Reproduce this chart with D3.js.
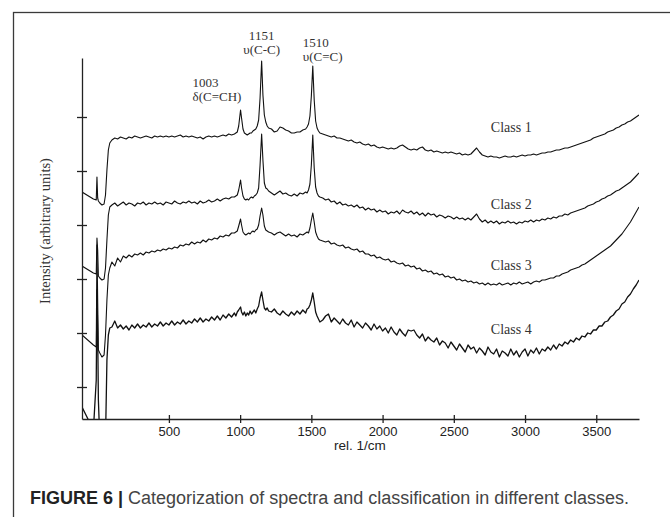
<!DOCTYPE html>
<html lang="en">
<head>
<meta charset="utf-8">
<title>Categorization of spectra</title>
<script src="https://cdn.jsdelivr.net/npm/d3@7"></script>
<style>
  body { margin: 0; background: #fff; }
  svg { display: block; }
</style>
</head>
<body>
<div id="chart"></div>
<script>
// Raman shift (rel. 1/cm) sampled along the spectra
const wavenumber = [
  -110, -30, -10, -5, 0, 5, 15, 30, 45, 55, 65, 75, 85,
  100, 120, 140, 160, 180, 200, 220, 240, 260, 280, 300, 320, 340, 360, 380, 400, 420, 440, 460, 480,
  500, 520, 540, 560, 580, 600, 620, 640, 660, 680, 700, 720, 740, 760, 780, 800, 820, 840, 860, 880,
  900, 920, 940,
  960, 970, 980, 990, 1003, 1010, 1020, 1030, 1040, 1050, 1060, 1070, 1080, 1090, 1100, 1110, 1120,
  1130, 1140, 1151, 1160, 1170, 1180, 1190, 1200,
  1220, 1240, 1260, 1280, 1300, 1320, 1340, 1360, 1380, 1400, 1420, 1440,
  1460, 1470, 1480, 1490, 1500, 1510, 1520, 1530, 1540, 1550, 1560,
  1580, 1600, 1620, 1640, 1660, 1680, 1700, 1720, 1740, 1760, 1780, 1800, 1820, 1840, 1860, 1880,
  1900, 1920, 1940, 1960, 1980, 2000, 2020, 2040, 2060, 2080, 2100, 2120, 2140, 2160, 2180, 2200,
  2220, 2240, 2260, 2280, 2300, 2320, 2340, 2360, 2380, 2400, 2420, 2440, 2460, 2480, 2500, 2520,
  2540, 2560, 2580, 2600, 2620, 2640, 2660, 2680, 2700, 2720, 2740, 2760, 2780, 2800, 2820, 2840,
  2860, 2880, 2900, 2920, 2940, 2960, 2980, 3000, 3020, 3040, 3060, 3080, 3100, 3120, 3140, 3160,
  3180, 3200, 3220, 3240, 3260, 3280, 3300, 3320, 3340, 3360, 3380, 3400, 3420, 3440, 3460, 3480,
  3500, 3520, 3540, 3560, 3580, 3600, 3620, 3640, 3660, 3680, 3700, 3720, 3740, 3760, 3780, 3800
];

// intensities (arbitrary units), one array per class
const class1 = [
  249, 242, 241, 264, 243, 240, 238, 236, 237, 246, 271, 291, 298,
  301, 303, 302, 304, 303, 302, 304, 303, 305, 304, 303, 304, 305, 304, 303, 305, 304, 305, 304, 305,
  304, 305, 304, 305, 306, 304, 305, 304, 305, 304, 303, 304, 302, 304, 305, 304, 305, 304, 305, 306,
  305, 307, 306,
  307, 308, 309, 315, 331, 323, 312, 308, 307, 306, 307, 308, 308, 310, 311, 312, 315,
  321, 343, 380, 346, 326, 319, 315, 313,
  312, 309, 310, 314, 313, 311, 310, 308, 308, 309, 309, 311,
  312, 314, 317, 325, 345, 375, 341, 320, 313, 310, 308,
  307, 306, 305, 304, 305, 303, 303, 302, 301, 300, 301, 299, 298, 299, 297, 296,
  297, 295, 296, 294, 293, 294, 293, 292, 293, 292, 293, 295, 296, 294, 292, 291,
  292, 291, 293, 294, 291, 290, 291, 289, 290, 289, 288, 289, 288, 289, 288, 287,
  288, 286, 287, 286, 287, 290, 293, 289, 286, 285, 284, 285, 284, 284, 283, 284,
  285, 284, 284, 285, 284, 285, 286, 285, 286, 286, 287, 286, 287, 288, 288, 289,
  289, 290, 291, 291, 292, 293, 293, 294, 295, 296, 297, 298, 299, 300, 301, 303,
  304, 305, 306, 307, 309, 310, 311, 313, 314, 316, 317, 319, 320, 322, 324, 326
];

const class2 = [
  175, 168, 167, 203, 191, 165, 163, 161, 162, 173, 201, 226, 234,
  236, 238, 235, 237, 239, 236, 238, 237, 235, 238, 237, 239, 236, 238, 237, 239, 237, 238, 236, 239,
  238, 237, 240, 238, 237, 239, 238, 240, 238, 239, 237, 240, 238, 239, 241, 239, 240, 242, 240, 242,
  243, 242, 244,
  244, 245, 246, 251, 261, 253, 245, 242, 241, 242, 241, 243, 244, 243, 245, 246, 248,
  253, 276, 307, 281, 258, 253, 252, 250,
  248, 246, 248, 250, 247, 248, 246, 245, 247, 245, 248, 247,
  249, 248, 251, 257, 276, 306, 273, 254, 248, 245, 244,
  243, 241, 242, 239, 240, 237, 239, 236, 237, 235, 236, 234, 236, 233, 234, 231,
  233, 231, 232, 229, 231, 229, 230, 227, 229, 228, 230, 227, 231, 229, 228, 230,
  227, 229, 226, 228, 225, 228, 226, 227, 224, 226, 225, 223, 225, 224, 222, 224,
  222, 223, 221, 223, 221, 224, 227, 222, 219, 221, 218, 220, 218, 220, 217, 219,
  218, 220, 218, 219, 217, 219, 218, 220, 219, 221, 219, 221, 220, 222, 221, 223,
  222, 224, 223, 225, 225, 227, 226, 228, 229, 230, 231, 232, 233, 235, 236, 237,
  239, 240, 242, 243, 245, 246, 248, 250, 251, 253, 255, 257, 259, 262, 265, 268
];

const class3 = [
  106, 96, 94, 196, 141, 91, 88, 84, 86, 106, 141, 166, 173,
  179, 175, 183, 179, 185, 183, 186, 184, 187, 186, 188, 186, 189, 188, 190, 189, 191, 190, 192, 191,
  193, 192, 194, 193, 196, 195, 197, 196, 199, 197, 199, 198, 201, 199, 202, 201, 203, 202, 205, 204,
  206, 205, 208,
  208, 209, 210, 215, 222, 216, 209, 207, 206, 207, 208, 207, 209, 210, 209, 211, 212,
  216, 225, 233, 226, 215, 211, 210, 209,
  208, 206, 208, 209, 207, 205, 207, 205, 206, 204, 207, 206,
  208, 209, 208, 213, 221, 228, 219, 209, 205, 202, 201,
  200, 199, 200, 197, 198, 196, 195, 196, 193, 194, 192, 191, 192, 189, 190, 187,
  187, 185, 186, 183, 184, 182, 181, 182, 179, 180, 178, 177, 178, 175, 176, 174,
  175, 172, 173, 170, 171, 169, 170, 167, 168, 166, 167, 164, 165, 163, 164, 161,
  162, 160, 161, 159, 160, 158, 159, 157, 158, 156, 158, 156, 157, 156, 158, 156,
  157, 158, 156, 158, 157, 159, 157, 158, 159, 157, 159, 160, 159, 161, 161, 162,
  163, 163, 165, 165, 167, 168, 169, 171, 172, 173, 174, 176, 177, 179, 181, 183,
  185, 187, 189, 191, 193, 195, 198, 201, 204, 207, 211, 215, 219, 224, 229, 234
];

const class4 = [
  34, 11, 61, 151, 111, 41, 1, -9, -9, 1, 81, 106, 113,
  114, 120, 113, 116, 112, 115, 111, 116, 113, 117, 113, 116, 114, 118, 114, 117, 115, 119, 115, 118,
  116, 120, 116, 119, 117, 121, 117, 120, 118, 122, 119, 123, 119, 122, 120, 124, 121, 125, 121, 126,
  123, 127, 124,
  128, 125, 129, 131, 134, 129, 126, 129, 125, 128, 126, 130, 127, 129, 131, 128, 132,
  135, 143, 149, 141, 133, 131, 133, 130,
  129, 132, 128, 126, 130, 127, 125, 129, 126, 130, 127, 131,
  128, 132, 133, 136, 141, 148, 139, 129, 125, 122, 119,
  121, 125, 127, 119, 123, 120, 117, 122, 118, 116, 121, 114, 119, 116, 113, 118,
  115, 111, 117, 112, 115, 110, 113, 108, 114, 109, 106, 112, 108, 105, 111, 110,
  111, 106, 103, 107, 100, 104, 101, 99, 103, 96, 100, 98, 93, 99, 95, 91,
  97, 93, 89, 96, 92, 94, 88, 93, 90, 86, 94, 89, 87, 92, 84, 90,
  88, 85, 92, 86, 90, 84, 89, 92, 85, 91, 88, 93, 87, 92, 90, 94,
  91, 96, 92, 97, 95, 99, 97, 101, 99, 103, 101, 105, 104, 108, 107, 111,
  111, 115, 115, 119, 120, 124, 126, 130, 132, 137, 139, 144, 147, 152, 156, 161
];

const series = [class1, class2, class3, class4];
const classLabels = ['Class 1', 'Class 2', 'Class 3', 'Class 4'];
const xTicks = [500, 1000, 1500, 2000, 2500, 3000, 3500];
const yTicks = [54, 108, 162, 216, 270, 324];
const peakPositions = [1003, 1151, 1510];
const peakNames = ['δ(C=CH)', 'υ(C-C)', 'υ(C=C)'];

series.forEach((s, i) => {
  if (s.length !== wavenumber.length) throw new Error('class' + (i + 1) + ' has ' + s.length + ' points, expected ' + wavenumber.length);
});

const W = 670, H = 517;
const plot = { left: 82, right: 639, top: 58, bottom: 419 };

const svg = d3.select('#chart').append('svg')
  .attr('width', W)
  .attr('height', H);

// outer frame of the figure
svg.append('rect')
  .attr('x', 13.5).attr('y', 12.5)
  .attr('width', 700).attr('height', 600)
  .attr('fill', 'none')
  .attr('stroke', '#3a3a3a')
  .attr('stroke-width', 1.3);

const x = d3.scaleLinear()
  .domain([-110, 3800])
  .range([plot.left, plot.right]);

const y = d3.scaleLinear()
  .domain([22, 383])
  .range([plot.bottom, plot.top]);

svg.append('clipPath').attr('id', 'plotClip')
  .append('rect')
  .attr('x', plot.left).attr('y', plot.top)
  .attr('width', plot.right - plot.left)
  .attr('height', plot.bottom - plot.top);

const line = d3.line()
  .x((d, i) => x(wavenumber[i]))
  .y(d => y(d));

svg.append('g')
  .attr('clip-path', 'url(#plotClip)')
  .selectAll('path')
  .data(series)
  .enter().append('path')
  .attr('d', line)
  .attr('fill', 'none')
  .attr('stroke', '#111')
  .attr('stroke-width', (d, i) => i === 3 ? 1.3 : 1.1)
  .attr('stroke-linejoin', 'round');

// x axis, ticks crossing the line
const xAxis = svg.append('g')
  .attr('transform', 'translate(0,' + plot.bottom + ')')
  .call(d3.axisBottom(x).tickValues(xTicks).tickFormat(d3.format('d')).tickSizeOuter(0));
xAxis.select('.domain').attr('stroke', '#222').attr('stroke-width', 1.3);
xAxis.selectAll('.tick line').attr('y1', -4).attr('y2', 4).attr('stroke', '#222').attr('stroke-width', 1.3);
xAxis.selectAll('.tick text')
  .attr('y', 8)
  .attr('fill', '#222')
  .style('font-family', '"Liberation Sans", Arial, sans-serif')
  .style('font-size', '13px');

// y axis without labels
const yAxis = svg.append('g')
  .attr('transform', 'translate(' + plot.left + ',0)')
  .call(d3.axisLeft(y).tickValues(yTicks).tickFormat('').tickSizeOuter(0));
yAxis.select('.domain').attr('stroke', '#222').attr('stroke-width', 1.3);
yAxis.selectAll('.tick line').attr('x1', -5).attr('x2', 5).attr('stroke', '#222').attr('stroke-width', 1.3);

svg.append('text')
  .attr('x', 360).attr('y', 450)
  .attr('text-anchor', 'middle')
  .attr('fill', '#222')
  .style('font-family', '"Liberation Sans", Arial, sans-serif')
  .style('font-size', '13.5px')
  .text('rel. 1/cm');

svg.append('text')
  .attr('transform', 'translate(50,231) rotate(-90)')
  .attr('text-anchor', 'middle')
  .attr('fill', '#333')
  .style('font-family', '"Liberation Serif", "Times New Roman", serif')
  .style('font-size', '14.5px')
  .text('Intensity (arbitrary units)');

// class names next to the curves
const serif = '"Liberation Serif", "Times New Roman", serif';
const labelY = [132, 209, 270, 334];
svg.selectAll('.classLabel')
  .data(classLabels)
  .enter().append('text')
  .attr('class', 'classLabel')
  .attr('x', x(2760))
  .attr('y', (d, i) => labelY[i])
  .attr('fill', '#333')
  .style('font-family', serif)
  .style('font-size', '14px')
  .text(d => d);

// band annotations
const notes = [
  { dx: -48, anchor: 'start', y1: 87, y2: 101 },
  { dx: 0, anchor: 'middle', y1: 40, y2: 54 },
  { dx: -10, anchor: 'start', y1: 47, y2: 61 }
];
peakPositions.forEach((p, i) => {
  const n = notes[i];
  const g = svg.append('g')
    .attr('fill', '#333')
    .style('font-family', serif)
    .style('font-size', '13px')
    .attr('text-anchor', n.anchor);
  g.append('text').attr('x', x(p) + n.dx).attr('y', n.y1).text(p);
  g.append('text').attr('x', x(p) + n.dx).attr('y', n.y2).text(peakNames[i]);
});

// caption
const cap = svg.append('text')
  .attr('x', 30).attr('y', 504)
  .style('font-family', '"Liberation Sans", Arial, sans-serif')
  .style('font-size', '18px');
cap.append('tspan').attr('font-weight', 'bold').attr('fill', '#222').text('FIGURE 6 | ');
cap.append('tspan').attr('fill', '#444').text('Categorization of spectra and classification in different classes.');
</script>
</body>
</html>
